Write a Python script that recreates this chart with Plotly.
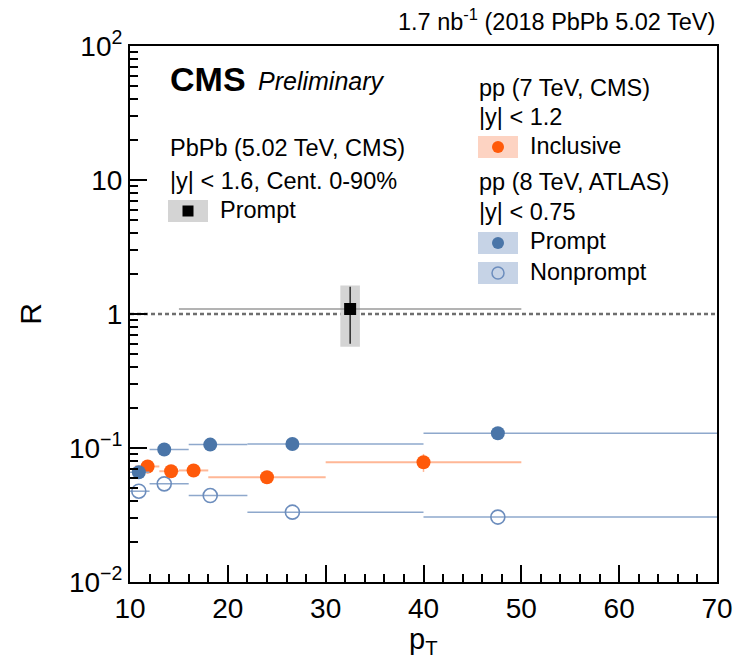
import plotly.graph_objects as go

# ---------------- data ----------------
# CMS PbPb 5.02 TeV, prompt
pbpb_x = [32.5]
pbpb_xlo = [15.0]
pbpb_xhi = [50.0]
pbpb_y = [1.09]
pbpb_stat_up = [0.51]
pbpb_stat_dn = [0.49]
pbpb_syst_up = [0.54]
pbpb_syst_dn = [0.52]

# CMS pp 7 TeV, inclusive
cms_x = [11.8, 14.2, 16.5, 24.0, 40.0]
cms_xlo = [10.5, 13.0, 15.0, 18.0, 30.0]
cms_xhi = [13.0, 15.0, 18.0, 30.0, 50.0]
cms_y = [0.0728, 0.0671, 0.068, 0.0605, 0.0783]
cms_err = [0.003, 0.003, 0.003, 0.003, 0.012]

# ATLAS pp 8 TeV, prompt / nonprompt
atlas_x = [10.9, 13.5, 18.2, 26.6, 47.6]
atlas_xlo = [10.0, 12.0, 16.0, 22.0, 40.0]
atlas_xhi = [12.0, 16.0, 22.0, 40.0, 70.0]
atlas_prompt_y = [0.0659, 0.0975, 0.106, 0.107, 0.129]
atlas_nonprompt_y = [0.0476, 0.054, 0.0442, 0.0332, 0.0305]

y_tickvals = [0.01, 0.1, 1, 10, 100]
y_ticktext = ["10<sup>−2</sup>", "10<sup>−1</sup>", "1", "10", "10<sup>2</sup>"]
x_tickvals = [10, 20, 30, 40, 50, 60, 70]

# ---------------- styles ----------------
FONT = "Liberation Sans, Arial, Helvetica, sans-serif"
ORANGE = "#ff5a0a"
ORANGE_L = "#ffb796"
ORANGE_BOX = "#fdd3c2"
BLUE = "#4a75a8"
BLUE_L = "#8ea8cc"
BLUE_OPEN = "#6c8dbd"
BLUE_BOX = "#c6d3e6"
GRAY_BOX = "#d4d4d4"

W, H = 744, 670
L, R, T, B = 130, 717, 46, 582


def minus(a, b):
    return [ai - bi for ai, bi in zip(a, b)]


fig = go.Figure()

# reference line at R = 1
fig.add_shape(type="line", xref="paper", x0=0, x1=1, yref="y", y0=1, y1=1,
              line=dict(color="#6e6e6e", width=2.5, dash="4px,3px"), layer="below")

# PbPb systematic box
SYS_HW = 1.0
bx, by = [], []
for x, y, su, sd in zip(pbpb_x, pbpb_y, pbpb_syst_up, pbpb_syst_dn):
    bx += [x - SYS_HW, x + SYS_HW, x + SYS_HW, x - SYS_HW, x - SYS_HW, None]
    by += [y - sd, y - sd, y + su, y + su, y - sd, None]
fig.add_trace(go.Scatter(x=bx, y=by, mode="lines", fill="toself",
                         fillcolor=GRAY_BOX, line=dict(width=0),
                         hoverinfo="skip", showlegend=False))

# ATLAS nonprompt
fig.add_trace(go.Scatter(
    x=atlas_x, y=atlas_nonprompt_y, mode="markers",
    marker=dict(symbol="circle-open", size=14, color=BLUE_OPEN, line=dict(width=1.6)),
    error_x=dict(type="data", symmetric=False, array=minus(atlas_xhi, atlas_x),
                 arrayminus=minus(atlas_x, atlas_xlo), color=BLUE_L, thickness=1.5, width=0),
    showlegend=False))

# CMS inclusive
fig.add_trace(go.Scatter(
    x=cms_x, y=cms_y, mode="markers",
    marker=dict(symbol="circle", size=14, color=ORANGE, line=dict(width=0)),
    error_x=dict(type="data", symmetric=False, array=minus(cms_xhi, cms_x),
                 arrayminus=minus(cms_x, cms_xlo), color=ORANGE_L, thickness=2, width=0),
    error_y=dict(type="data", array=cms_err, color=ORANGE_L, thickness=1.5, width=0),
    showlegend=False))

# ATLAS prompt
fig.add_trace(go.Scatter(
    x=atlas_x, y=atlas_prompt_y, mode="markers",
    marker=dict(symbol="circle", size=14, color=BLUE, line=dict(width=0)),
    error_x=dict(type="data", symmetric=False, array=minus(atlas_xhi, atlas_x),
                 arrayminus=minus(atlas_x, atlas_xlo), color=BLUE_L, thickness=1.5, width=0),
    showlegend=False))

# PbPb prompt
fig.add_trace(go.Scatter(
    x=pbpb_x, y=pbpb_y, mode="markers",
    marker=dict(symbol="square", size=12, color="black", line=dict(width=0)),
    error_x=dict(type="data", symmetric=False, array=minus(pbpb_xhi, pbpb_x),
                 arrayminus=minus(pbpb_x, pbpb_xlo), color="#9a9a9a", thickness=1.5, width=0),
    error_y=dict(type="data", symmetric=False, array=pbpb_stat_up,
                 arrayminus=pbpb_stat_dn, color="black", thickness=1.2, width=0),
    showlegend=False))

# ---------------- legend (drawn in pixel coordinates of an overlay axis) ----------------
leg_marks = [
    (188, 211, "square", "black", 11, GRAY_BOX),
    (498, 147, "circle", ORANGE, 12, ORANGE_BOX),
    (498, 243, "circle", BLUE, 12, BLUE_BOX),
    (498, 273, "circle-open", BLUE_OPEN, 12, BLUE_BOX),
]
for (cx, cy, sym, col, sz, box) in leg_marks:
    fig.add_shape(type="rect", xref="x2", yref="y2", x0=cx - 20, x1=cx + 20,
                  y0=cy - 11, y1=cy + 11, fillcolor=box, line=dict(width=0), layer="below")
    fig.add_trace(go.Scatter(x=[cx], y=[cy], xaxis="x2", yaxis="y2", mode="markers",
                             marker=dict(symbol=sym, size=sz, color=col,
                                         line=dict(width=1.5 if "open" in sym else 0, color=col)),
                             hoverinfo="skip", showlegend=False))


def px(x):
    return (x - L) / (R - L)


def py(y):
    return (B - y) / (B - T)


texts = [
    (168, 79, "<b>CMS</b>", 34, "left"),
    (256, 81, "<i>Preliminary</i>", 25, "left"),
    (168, 148, "PbPb (5.02 TeV, CMS)", 23.5, "left"),
    (168, 181, "|y| < 1.6, Cent. 0-90%", 23.5, "left"),
    (218, 210, "Prompt", 23.5, "left"),
    (477, 88, "pp (7 TeV, CMS)", 23.5, "left"),
    (477, 117, "|y| < 1.2", 23.5, "left"),
    (528, 146, "Inclusive", 23.5, "left"),
    (477, 182, "pp (8 TeV, ATLAS)", 23.5, "left"),
    (477, 212, "|y| < 0.75", 23.5, "left"),
    (528, 241, "Prompt", 23.5, "left"),
    (528, 272, "Nonprompt", 23.5, "left"),
    (717, 20, "1.7 nb<sup>-1</sup> (2018 PbPb 5.02 TeV)", 23.5, "right"),
]
anns = []
for (x, y, t, s, anc) in texts:
    anns.append(dict(x=px(x), y=py(y), xref="paper", yref="paper", text=t,
                     showarrow=False, xanchor=anc, yanchor="middle",
                     font=dict(family=FONT, size=s, color="black")))
# x-axis title
anns.append(dict(x=px(424), y=py(641), xref="paper", yref="paper", text="p<sub>T</sub>",
                 showarrow=False, xanchor="center", yanchor="middle",
                 font=dict(family=FONT, size=29, color="black")))

fig.update_layout(
    width=W, height=H,
    margin=dict(l=L, r=W - R, t=T, b=H - B, pad=0),
    paper_bgcolor="white", plot_bgcolor="white",
    font=dict(family=FONT, color="black"),
    showlegend=False,
    annotations=anns,
    xaxis=dict(range=[10, 70], showgrid=False, zeroline=False,
               showline=True, linecolor="black", linewidth=2, mirror=True,
               ticks="inside", ticklen=17, tickwidth=2, tickcolor="black",
               tickmode="array", tickvals=x_tickvals,
               tickfont=dict(size=28, family=FONT),
               minor=dict(ticks="inside", ticklen=8, tickwidth=2, tickcolor="black",
                          tickmode="array", tickvals=[v for v in range(12, 70, 2) if v % 10])),
    yaxis=dict(type="log", range=[-2, 2], showgrid=False, zeroline=False,
               showline=True, linecolor="black", linewidth=2, mirror=True,
               ticks="inside", ticklen=17, tickwidth=2, tickcolor="black",
               tickmode="array", tickvals=y_tickvals, ticktext=y_ticktext,
               tickfont=dict(size=28, family=FONT),
               minor=dict(ticks="inside", ticklen=8, tickwidth=2, tickcolor="black",
                          tickmode="array",
                          tickvals=[m * 10 ** e for e in range(-2, 2) for m in range(2, 10)]),
               title=dict(text="R", font=dict(size=30, family=FONT), standoff=18)),
    xaxis2=dict(range=[L, R], overlaying="x", visible=False, fixedrange=True),
    yaxis2=dict(range=[B, T], overlaying="y", visible=False, fixedrange=True),
)

fig.write_html("out.html")
